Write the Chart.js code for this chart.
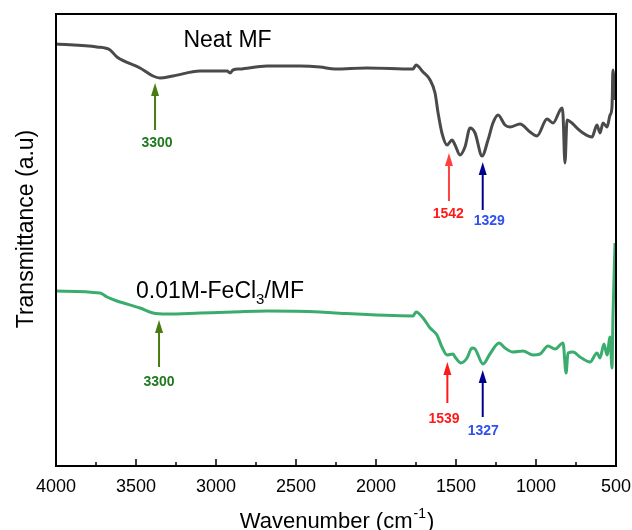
<!DOCTYPE html>
<html>
<head>
<meta charset="utf-8">
<script src="https://cdn.jsdelivr.net/npm/chart.js@4.4.0/dist/chart.umd.min.js"></script>
<style>
    html, body { margin: 0; padding: 0; background: #fff; }
    #wrap { width: 632px; height: 530px; position: relative; }
</style>
</head>
<body>
<div id="wrap"><canvas id="ftir"></canvas></div>
<script>
// FTIR spectra: Neat MF vs 0.01M-FeCl3/MF (transmittance in arbitrary units)
const wnNeat = [4000, 3744, 3662, 3619, 3475, 3394, 3350, 3269, 3100, 2931, 2912, 2894, 2850, 2681, 2475, 2350,
    2256, 2056, 1769, 1750, 1706, 1662, 1631, 1612, 1588, 1556, 1525, 1506, 1475, 1444, 1412, 1381, 1337, 1300,
    1269, 1237, 1194, 1162, 1100, 1037, 994, 931, 894, 837, 831, 819, 806, 775, 744, 706, 650, 619, 600, 581,
    556, 537, 525, 519, 506];
const tNeat = [422, 419, 416, 409, 398, 390, 388, 390, 395, 395, 393, 396, 397, 400, 400, 399,
    397, 398, 397, 401, 394, 386, 373, 353, 333, 321, 326, 321, 311, 319, 338, 333, 310, 326,
    343, 351, 341, 339, 342, 334, 330, 347, 343, 358, 351, 303, 346, 343, 338, 333, 329, 341, 333, 343,
    339, 351, 359, 396, 366];

const wnFe = [4000, 3725, 3681, 3619, 3475, 3394, 3306, 3100, 2894, 2681, 2350, 2256, 1769, 1750, 1706, 1662,
    1619, 1588, 1556, 1519, 1506, 1469, 1431, 1400, 1381, 1331, 1288, 1231, 1194, 1144, 1081, 1019, 975, 925,
    881, 831, 812, 800, 769, 725, 662, 619, 600, 575, 556, 537, 525, 519, 506];
const tFe = [175, 173, 169, 165, 158, 153, 152, 153, 154, 155, 154, 153, 150, 154, 148, 138,
    131, 119, 111, 112, 109, 103, 108, 118, 117, 102, 112, 123, 118, 114, 115, 111, 112, 120,
    117, 123, 93, 113, 114, 109, 104, 113, 108, 122, 111, 129, 98, 149, 223];

// peak annotations: label, arrow x (cm-1), tip / tail / label y (a.u.), label x
const peakText = ['3300', '1542', '1329', '3300', '1539', '1327'];
const peakWn = [3381, 1544, 1333, 3356, 1554, 1333];
const peakTip = [383, 313, 304, 146, 104, 96];
const peakTail = [336, 265, 256, 99, 63, 49];
const peakLabelY = [323, 252, 245, 84, 47, 35];
const peakLabelWn = [3369, 1548, 1292, 3356, 1575, 1330];
const arrowColors = ['#4b7a0e', '#ff4040', '#00008f', '#4b7a0e', '#ff1a1a', '#00008f'];
const labelColors = ['#1f7a1f', '#ff1a1a', '#3050f0', '#1f7a1f', '#ff1a1a', '#3050f0'];

const xTicksMajor = [4000, 3500, 3000, 2500, 2000, 1500, 1000, 500];
const xTicksMinor = [3750, 3250, 2750, 2250, 1750, 1250, 750];

const FONT = '"Liberation Sans", Arial, sans-serif';

function toPoints(xs, ys) {
    return xs.map((x, i) => ({ x: x, y: ys[i] }));
}

function drawArrow(ctx, x, yTail, yTip, color) {
    const headLen = 13, headHalf = 4;
    ctx.save();
    ctx.strokeStyle = color;
    ctx.fillStyle = color;
    ctx.lineWidth = 2;
    ctx.beginPath();
    ctx.moveTo(x, yTail);
    ctx.lineTo(x, yTip + headLen - 1);
    ctx.stroke();
    ctx.beginPath();
    ctx.moveTo(x, yTip);
    ctx.lineTo(x - headHalf, yTip + headLen);
    ctx.lineTo(x + headHalf, yTip + headLen);
    ctx.closePath();
    ctx.fill();
    ctx.restore();
}

const decorPlugin = {
    id: 'decor',
    afterDatasetsDraw(chart) {
        const { ctx, chartArea: a, scales } = chart;
        const xs = scales.x, ys = scales.y;

        // frame
        ctx.save();
        ctx.strokeStyle = '#000';
        ctx.lineWidth = 2;
        ctx.strokeRect(a.left, a.top, a.right - a.left, a.bottom - a.top);

        // inward ticks on bottom axis
        ctx.lineWidth = 1.5;
        ctx.beginPath();
        xTicksMajor.forEach(v => {
            const px = Math.round(xs.getPixelForValue(v));
            ctx.moveTo(px, a.bottom);
            ctx.lineTo(px, a.bottom - 7);
        });
        xTicksMinor.forEach(v => {
            const px = Math.round(xs.getPixelForValue(v));
            ctx.moveTo(px, a.bottom);
            ctx.lineTo(px, a.bottom - 4);
        });
        ctx.stroke();
        ctx.restore();

        // arrows + peak labels
        peakText.forEach((t, i) => {
            const px = xs.getPixelForValue(peakWn[i]);
            drawArrow(ctx, px, ys.getPixelForValue(peakTail[i]), ys.getPixelForValue(peakTip[i]), arrowColors[i]);
            ctx.save();
            ctx.font = 'bold 14px ' + FONT;
            ctx.fillStyle = labelColors[i];
            ctx.textAlign = 'center';
            ctx.textBaseline = 'middle';
            ctx.fillText(t, xs.getPixelForValue(peakLabelWn[i]), ys.getPixelForValue(peakLabelY[i]));
            ctx.restore();
        });

        // series names
        ctx.save();
        ctx.fillStyle = '#000';
        ctx.font = '23px ' + FONT;
        ctx.textBaseline = 'middle';
        ctx.textAlign = 'center';
        ctx.fillText('Neat MF', xs.getPixelForValue(2928), ys.getPixelForValue(425));

        // 0.01M-FeCl3/MF with subscript
        const p1 = '0.01M-FeCl', sub = '3', p2 = '/MF';
        const w1 = ctx.measureText(p1).width;
        const w3 = ctx.measureText(p2).width;
        ctx.font = '15px ' + FONT;
        const w2 = ctx.measureText(sub).width;
        const cx = xs.getPixelForValue(2975), cy = ys.getPixelForValue(174);
        let x0 = cx - (w1 + w2 + w3) / 2;
        ctx.textAlign = 'left';
        ctx.font = '23px ' + FONT;
        ctx.fillText(p1, x0, cy);
        ctx.font = '15px ' + FONT;
        ctx.fillText(sub, x0 + w1, cy + 8);
        ctx.font = '23px ' + FONT;
        ctx.fillText(p2, x0 + w1 + w2, cy);
        ctx.restore();

        // axis titles
        ctx.save();
        ctx.fillStyle = '#000';
        ctx.font = '22px ' + FONT;
        ctx.textBaseline = 'alphabetic';
        ctx.textAlign = 'left';
        const t1 = 'Wavenumber (cm', t2 = '-1', t3 = ')';
        const a1 = ctx.measureText(t1).width, a3 = ctx.measureText(t3).width;
        ctx.font = '14px ' + FONT;
        const a2 = ctx.measureText(t2).width;
        const mid = (a.left + a.right) / 2;
        let tx = mid - (a1 + a2 + a3) / 2;
        const ty = 528;
        ctx.font = '22px ' + FONT;
        ctx.fillText(t1, tx, ty);
        ctx.font = '14px ' + FONT;
        ctx.fillText(t2, tx + a1 + 1, ty - 10);
        ctx.font = '22px ' + FONT;
        ctx.fillText(t3, tx + a1 + a2 + 2, ty);

        ctx.translate(33, 229);
        ctx.rotate(-Math.PI / 2);
        ctx.textAlign = 'center';
        ctx.font = '23px ' + FONT;
        ctx.fillText('Transmittance (a.u)', 0, 0);
        ctx.restore();
    }
};

new Chart(document.getElementById('ftir'), {
    type: 'line',
    data: {
        datasets: [
            {
                label: 'Neat MF',
                data: toPoints(wnNeat, tNeat),
                borderColor: '#4a4a4a',
                borderWidth: 3,
                pointRadius: 0,
                cubicInterpolationMode: 'monotone',
                fill: false
            },
            {
                label: '0.01M-FeCl3/MF',
                data: toPoints(wnFe, tFe),
                borderColor: '#3aad6e',
                borderWidth: 3,
                pointRadius: 0,
                cubicInterpolationMode: 'monotone',
                fill: false
            }
        ]
    },
    options: {
        responsive: true,
        maintainAspectRatio: false,
        animation: false,
        layout: { padding: { left: 56, top: 14, right: 16, bottom: 0 } },
        plugins: { legend: { display: false }, tooltip: { enabled: false } },
        scales: {
            x: {
                type: 'linear',
                reverse: true,
                min: 500,
                max: 4000,
                afterFit: s => {
                    s.height = 64;
                    s.paddingLeft = 0;
                    s.paddingRight = 0;
                },
                border: { display: false },
                grid: { display: false, drawTicks: false },
                afterBuildTicks: s => { s.ticks = xTicksMajor.map(v => ({ value: v })); },
                ticks: {
                    color: '#000',
                    padding: 10,
                    maxRotation: 0,
                    font: { family: FONT, size: 18 },
                    callback: v => String(v)
                }
            },
            y: {
                display: false,
                min: 0,
                max: 452
            }
        }
    },
    plugins: [decorPlugin]
});
</script>
</body>
</html>
